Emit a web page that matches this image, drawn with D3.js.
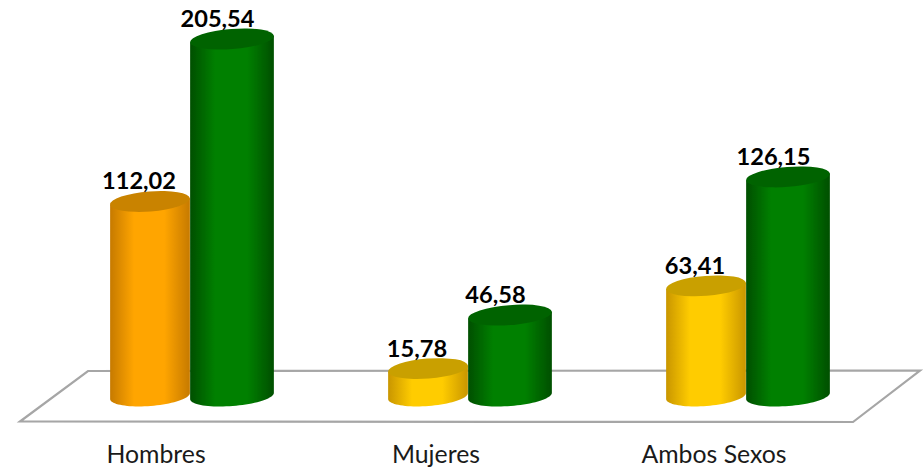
<!DOCTYPE html>
<html>
<head>
<meta charset="utf-8">
<script src="https://cdnjs.cloudflare.com/ajax/libs/d3/7.8.5/d3.min.js"></script>
<style>html,body{margin:0;padding:0;background:#fff}svg{display:block}</style>
</head>
<body>
<svg id="chart" width="924" height="467"></svg>
<script>
const categories = ["Hombres", "Mujeres", "Ambos Sexos"];
const seriesA = [112.02, 15.78, 63.41];
const seriesB = [205.54, 46.58, 126.15];
const valueLabels = v => v.toFixed(2).replace(".", ",");

const bodyColors = ["#ffa500", "#ffcc00", "#ffcc00"];
const edgeColors = ["#c67a00", "#c99600", "#c99600"];
const capColors = ["#c98300", "#c9a000", "#c9a000"];
const green = { body: "#008000", edge: "#004f00", cap: "#006400" };
const labelShift = [-34, -32, -32];

const svg = d3.select("#chart");
const defs = svg.append("defs");
const x = d3.scaleBand().domain(categories).range([51, 885]).padding(0);
const inner = d3.scaleBand().domain(["a", "b"]).range([-81, 83]);
const y = d3.scaleLinear().domain([0, 205.54]).range([396, 39]);
const ry = 10, tilt = -4.5;
const rad = tilt * Math.PI / 180;

function gradient(id, edge, body) {
  const g = defs.append("linearGradient").attr("id", id)
    .attr("x1", "0%").attr("x2", "100%").attr("y1", "0%").attr("y2", "0%");
  [[0, edge], [0.3, body], [0.68, body], [1, edge]].forEach(([o, c]) =>
    g.append("stop").attr("offset", o).attr("stop-color", c));
}
bodyColors.forEach((c, i) => gradient("gA" + i, edgeColors[i], c));
gradient("gB", green.edge, green.body);
defs.append("filter").attr("id", "soft").append("feGaussianBlur").attr("stdDeviation", 0.5);

// floor
svg.append("path")
  .attr("d", d3.line()([[20, 421.5], [88, 371], [920, 370.5], [853, 422]]) + "Z")
  .attr("fill", "#fff").attr("stroke", "#a6a6a6").attr("stroke-width", 2.2);

const polygon = d3.line();
function cylinder(cx, rx, value, fill, cap) {
  const top = y(value), base = y(0);
  const dx = rx * Math.cos(rad), dy = rx * Math.sin(rad);
  const g = svg.append("g").attr("filter", "url(#soft)");
  const arc = d3.range(0, 41).map(k => {
    const t = Math.PI * (1 - k / 40);
    return [
      cx + rx * Math.cos(t) * Math.cos(rad) - ry * Math.sin(t) * Math.sin(rad),
      base + rx * Math.cos(t) * Math.sin(rad) + ry * Math.sin(t) * Math.cos(rad)
    ];
  });
  const pts = arc.concat([[cx + dx, top + dy], [cx - dx, top - dy]]);
  g.append("path").attr("d", polygon(pts) + "Z").attr("fill", fill);
  g.append("ellipse").attr("cx", 0).attr("cy", 0).attr("rx", rx).attr("ry", ry)
    .attr("transform", `translate(${cx},${top}) rotate(${tilt})`)
    .attr("fill", cap);
}

const font = "Lato, 'Open Sans', sans-serif";
categories.forEach((c, i) => {
  const center = x(c) + x.bandwidth() / 2;
  const ca = center + inner("a") + inner.bandwidth() / 2;
  const cb = center + inner("b") + inner.bandwidth() / 2;
  cylinder(ca, 40, seriesA[i], `url(#gA${i})`, capColors[i]);
  cylinder(cb, 42, seriesB[i], "url(#gB)", green.cap);
  svg.append("text").attr("x", ca - 11).attr("y", y(seriesA[i]) - 12)
    .attr("text-anchor", "middle").attr("font-family", font).attr("font-weight", 700)
    .attr("font-size", 23.6).attr("fill", "#000").text(valueLabels(seriesA[i]));
  svg.append("text").attr("x", cb - 14.5).attr("y", y(seriesB[i]) - 12)
    .attr("text-anchor", "middle").attr("font-family", font).attr("font-weight", 700)
    .attr("font-size", 23.6).attr("fill", "#000").text(valueLabels(seriesB[i]));
  svg.append("text").attr("x", center + labelShift[i]).attr("y", 463)
    .attr("text-anchor", "middle").attr("font-family", font)
    .attr("font-size", 24.8).attr("fill", "#1a1a1a").text(c);
});
</script>
</body>
</html>
